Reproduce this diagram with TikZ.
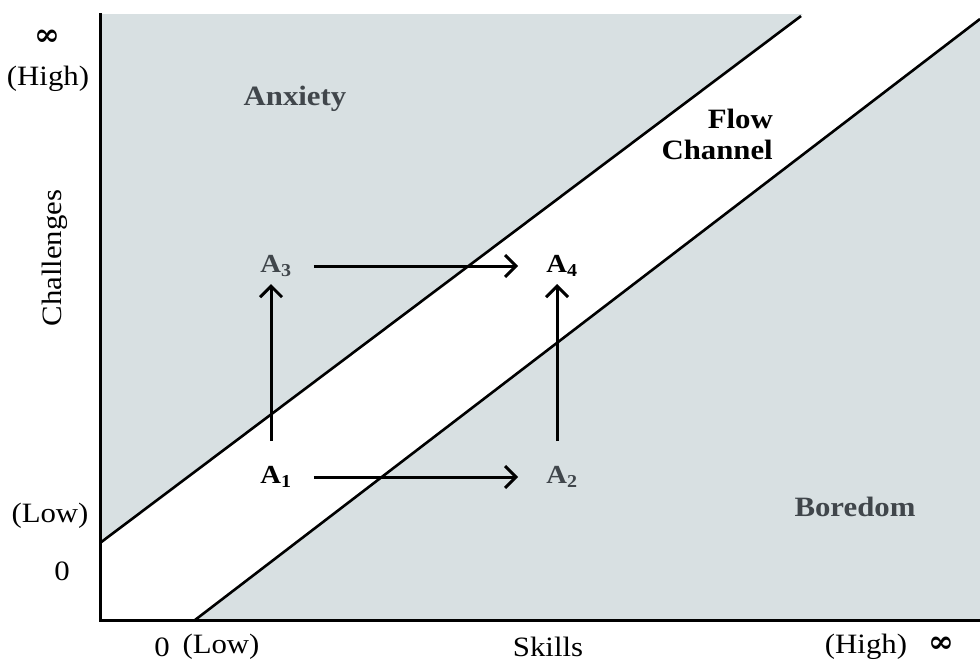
\documentclass[tikz,border=0pt]{standalone}
\usepackage{fontspec}
\setmainfont{Liberation Serif}[FakeStretch=1.1]
\newfontfamily\symfont{DejaVu Serif}
\usetikzlibrary{arrows.meta}
\definecolor{zonegray}{HTML}{D8E0E2}
\definecolor{labelgray}{HTML}{40464B}
\begin{document}
\begin{tikzpicture}[x=1pt,y=-1pt,
  lbl/.style={inner sep=0pt,font=\fontsize{28}{30}\selectfont},
  inf/.style={inner sep=0pt,font=\symfont\bfseries\fontsize{31}{32}\selectfont},
  zone/.style={inner sep=0pt,font=\bfseries\fontsize{28}{31}\selectfont},
  state/.style={inner sep=0pt,font=\bfseries\fontsize{26}{28}\selectfont,minimum width=28pt,minimum height=18pt},
  arr/.style={line width=3pt,-{Straight Barb[length=11pt,width=22pt,line width=3pt]}},
  border/.style={line width=3pt},
  edge/.style={line width=2.6pt}]
\useasboundingbox (0,0) rectangle (980,662);
% zones
\fill[zonegray] (100,14) rectangle (980,620);
\fill[white] (100,543) -- (803,14) -- (980,14) -- (980,18) -- (195,620) -- (100,620) -- cycle;
% channel borders
\coordinate (u0) at (100,543);
\coordinate (u1) at (801,16);
\coordinate (l0) at (195,620);
\coordinate (l1) at (980,19);
\draw[edge] (u0) -- (u1);
\draw[edge] (l0) -- (l1);
% axes
\coordinate (top) at (100,13);
\coordinate (orig) at (100,620);
\coordinate (right) at (980,620);
\draw[border] (top) -- (orig) -- (right);
% zone labels
\node[zone,text=labelgray] (anx) at (295,99) {Anxiety};
\node[zone,align=right,anchor=east] (flow) at (773,134) {Flow\\Channel};
\node[zone,text=labelgray] (bor) at (855,507) {Boredom};
% states
\node[state] (a1) at (276,477) {A\textsubscript{1}};
\node[state,text=labelgray] (a2) at (562,477) {A\textsubscript{2}};
\node[state,text=labelgray] (a3) at (276,266) {A\textsubscript{3}};
\node[state] (a4) at (562,266) {A\textsubscript{4}};
\draw[arr,shorten <=22pt,shorten >=28pt] (a1) -- (a2);
\draw[arr,shorten <=22pt,shorten >=28pt] (a3) -- (a4);
\draw[arr,shorten <=36pt,shorten >=18pt] ([xshift=-5pt]a1.center) -- ([xshift=-5pt]a3.center);
\draw[arr,shorten <=36pt,shorten >=18pt] ([xshift=-5pt]a2.center) -- ([xshift=-5pt]a4.center);
% axis labels
\node[inf] (inftop) at (47,38) {∞};
\node[lbl] (high) at (48,79) {(High)};
\node[lbl,rotate=90] (chal) at (55,258) {Challenges};
\node[lbl] (lowy) at (50,516) {(Low)};
\node[lbl] (zeroy) at (62,571) {0};
\node[lbl] (zerox) at (162,647) {0};
\node[lbl] (lowx) at (221,647) {(Low)};
\node[lbl] (skills) at (548,647) {Skills};
\node[lbl] (highx) at (866,647) {(High)};
\node[inf] (infx) at (941,645) {∞};
\end{tikzpicture}
\end{document}
